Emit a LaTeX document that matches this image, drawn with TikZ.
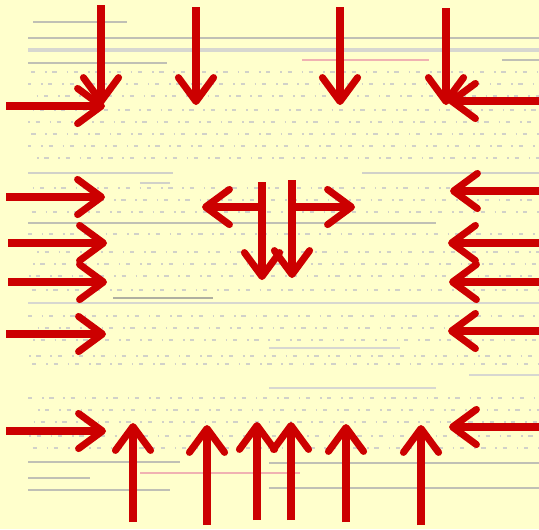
\documentclass[tikz,border=0pt]{standalone}
\usetikzlibrary{arrows.meta}
\definecolor{papier}{RGB}{255,255,204}
\definecolor{rot}{RGB}{204,0,0}
\definecolor{tinte}{RGB}{140,140,120}
\tikzset{%
		pfeil/.style={draw=rot,line width=5pt,-{Straight Barb[length=17pt,width=25pt,line cap=round,line join=round]}},
		zeile/.style={draw=tinte!55,line width=1.6pt},
		punkte/.style={draw=tinte!40,line width=1pt,dash pattern=on 1.2pt off 4pt on 3pt off 7pt}
	}

\begin{document}
\begin{tikzpicture}[x=0.025cm,y=-0.025cm]
      \fill[papier] (0,0) rectangle (539,529) ;
      \useasboundingbox (0,0) rectangle (539,529) ;

      % blatt
      \begin{scope}
        \foreach \y [count=\i] in {72,84,96,110,122,134,146,158,188,200,212,234,252,264,276,290,316,328,340,356,364,398,410,422,436,448} {
          \draw[punkte,dash phase=3*\i pt] (28,\y) -- (539,\y) ;
        }
        \draw[zeile] (33,22) -- (127,22) ;
        \draw[zeile] (28,38) -- (539,38) ;
        \draw[zeile,line width=3pt,draw=tinte!35] (28,50) -- (539,50) ;
        \draw[zeile] (28,63) -- (167,63) ;
        \draw[zeile,draw=rot!30] (302,60) -- (429,60) ;
        \draw[zeile] (502,60) -- (539,60) ;
        \draw[zeile,draw=tinte!40] (28,173) -- (173,173) ;
        \draw[zeile,draw=tinte!40] (362,173) -- (539,173) ;
        \draw[zeile,draw=tinte!40] (140,183) -- (170,183) ;
        \draw[zeile] (28,223) -- (436,223) ;
        \draw[zeile,draw=tinte!70] (113,298) -- (213,298) ;
        \draw[zeile,draw=tinte!35] (28,303) -- (539,303) ;
        \draw[zeile,draw=tinte!35] (269,348) -- (400,348) ;
        \draw[zeile,draw=tinte!35] (469,375) -- (539,375) ;
        \draw[zeile,draw=tinte!35] (269,388) -- (436,388) ;
        \draw[zeile] (28,462) -- (180,462) ;
        \draw[zeile] (269,463) -- (539,463) ;
        \draw[zeile,draw=rot!30] (140,473) -- (300,473) ;
        \draw[zeile] (28,478) -- (90,478) ;
        \draw[zeile] (28,490) -- (170,490) ;
        \draw[zeile] (269,488) -- (539,488) ;
      \end{scope}

      % oben
      \draw[pfeil] (101,5) -- (101,105) ;
      \draw[pfeil] (196,7) -- (196,105) ;
      \draw[pfeil] (340,7) -- (340,105) ;
      \draw[pfeil] (446,8) -- (446,105) ;

      % links
      \draw[pfeil] (6,106) -- (105,106) ;
      \draw[pfeil] (6,197) -- (105,197) ;
      \draw[pfeil] (8,243) -- (107,243) ;
      \draw[pfeil] (8,282) -- (107,282) ;
      \draw[pfeil] (6,334) -- (106,334) ;
      \draw[pfeil] (6,431) -- (106,431) ;

      % rechts
      \draw[pfeil] (539,101) -- (448,101) ;
      \draw[pfeil] (539,191) -- (450,191) ;
      \draw[pfeil] (539,243) -- (448,243) ;
      \draw[pfeil] (539,282) -- (449,282) ;
      \draw[pfeil] (539,331) -- (448,331) ;
      \draw[pfeil] (539,427) -- (449,427) ;

      % unten
      \draw[pfeil] (133,522) -- (133,423) ;
      \draw[pfeil] (207,525) -- (207,425) ;
      \draw[pfeil] (257,520) -- (257,422) ;
      \draw[pfeil] (291,520) -- (291,422) ;
      \draw[pfeil] (346,522) -- (346,424) ;
      \draw[pfeil] (421,525) -- (421,425) ;

      % mitte
      \draw[pfeil] (262,207) -- (202,207) ;
      \draw[pfeil] (292,207) -- (355,207) ;
      \draw[pfeil] (262,182) -- (262,280) ;
      \draw[pfeil] (292,180) -- (292,278) ;
\end{tikzpicture}
\end{document}
